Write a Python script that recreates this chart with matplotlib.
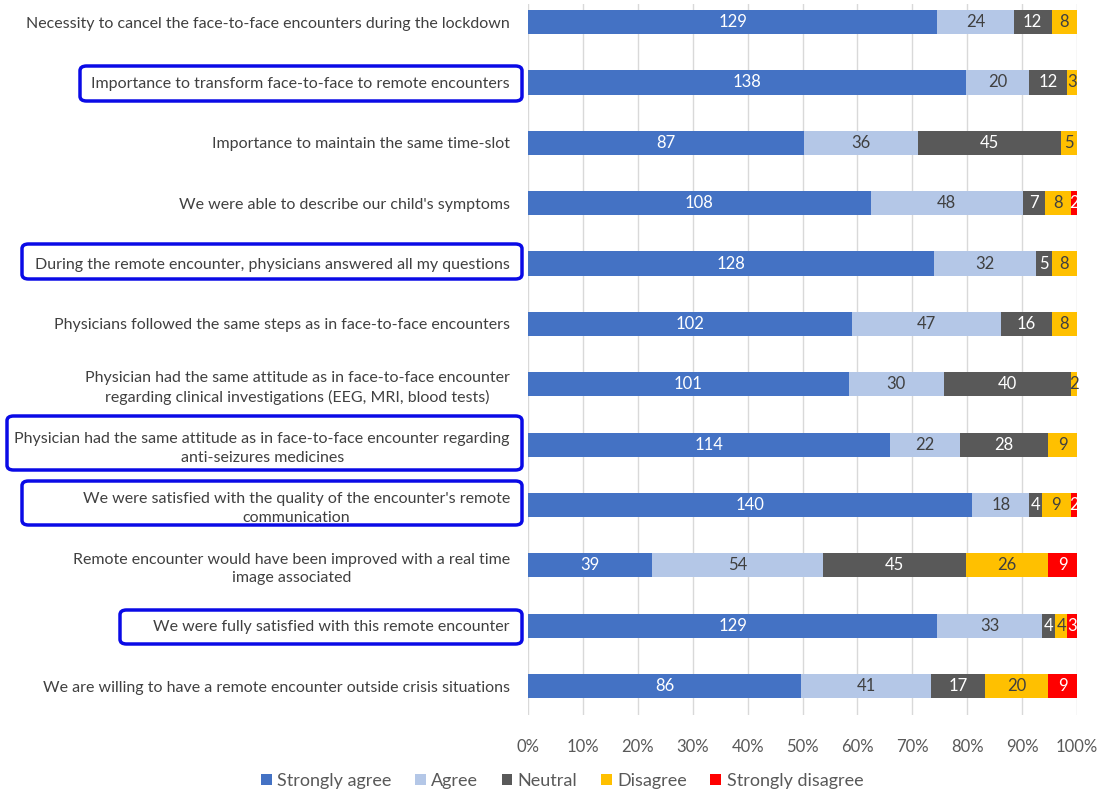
import matplotlib
matplotlib.use("Agg")
from matplotlib import pyplot as plt
from matplotlib.patches import FancyBboxPatch
import numpy as np

# 数据
categories = [
    "Necessity to cancel the face-to-face encounters during the lockdown",
    "Importance to transform face-to-face to remote encounters",
    "Importance to maintain the same time-slot",
    "We were able to describe our child's symptoms",
    "During the remote encounter, physicians answered all my questions",
    "Physicians followed the same steps as in face-to-face encounters",
    "Physician had the same attitude as in face-to-face encounter\nregarding clinical investigations (EEG, MRI, blood tests)",
    "Physician had the same attitude as in face-to-face encounter regarding\nanti-seizures medicines",
    "We were satisfied with the quality of the encounter's remote\ncommunication",
    "Remote encounter would have been improved with a real time\nimage associated",
    "We were fully satisfied with this remote encounter",
    "We are willing to have a remote encounter outside crisis situations",
]
strongly_agree = [129, 138, 87, 108, 128, 102, 101, 114, 140, 39, 129, 86]
agree = [24, 20, 36, 48, 32, 47, 30, 22, 18, 54, 33, 41]
neutral = [12, 12, 45, 7, 5, 16, 40, 28, 4, 45, 4, 17]
disagree = [8, 3, 5, 8, 8, 8, 2, 9, 9, 26, 4, 20]
strongly_disagree = [0, 0, 0, 2, 0, 0, 0, 0, 2, 9, 3, 9]

series_names = ["Strongly agree", "Agree", "Neutral", "Disagree", "Strongly disagree"]
colors = ["#4472C4", "#B4C7E7", "#595959", "#FFC000", "#FF0000"]
label_colors = ["white", "#404040", "white", "#404040", "white"]

plt.rcParams['font.family'] = ['Lato', 'DejaVu Sans']

fig = plt.figure(figsize=(10.99, 7.91), dpi=100)
ax = fig.add_axes([528 / 1099, 76 / 791, 549 / 1099, 711 / 791])

data = np.array([strongly_agree, agree, neutral, disagree, strongly_disagree], dtype=float)
totals = data.sum(axis=0)
pct = data / totals * 100
y = np.arange(len(categories))

left = np.zeros(len(categories))
for i in range(len(series_names)):
    bars = ax.barh(y, pct[i], left=left, height=0.4, color=colors[i],
                   label=series_names[i], zorder=3)
    for j, b in enumerate(bars):
        v = data[i][j]
        if v > 0:
            ax.text(left[j] + pct[i][j] / 2, y[j], "%d" % v, ha="center", va="center",
                    color=label_colors[i], fontsize=12, zorder=4)
    left += pct[i]

ax.set_xlim(0, 100)
ax.set_ylim(11.48, -0.3)
ax.set_xticks(range(0, 101, 10))
ax.set_xticklabels(["%d%%" % t for t in range(0, 101, 10)], fontsize=12, color="#595959")
ax.set_yticks(y)
ax.set_yticklabels(categories, fontsize=11.5, color="#404040", multialignment="center",
                   linespacing=1.4)
ax.tick_params(axis="both", length=0)
ax.tick_params(axis="x", pad=17)
ax.tick_params(axis="y", pad=13)
ax.grid(axis="x", color="#d9d9d9", linewidth=1, zorder=0)
for s in ax.spines.values():
    s.set_visible(False)

fig.legend(loc="center", bbox_to_anchor=(562 / 1099, 1 - 781 / 791), ncol=5, frameon=False,
           fontsize=13, handlelength=0.6, handleheight=0.6, handletextpad=0.3,
           columnspacing=1.3, labelcolor="#595959", borderpad=0)

# 蓝色圆角框 (像素坐标)
box_px = [(80, 66, 522, 101), (22, 244, 522, 279), (7, 416, 522, 470),
          (22, 481, 522, 525), (120, 610, 522, 644)]
for x0, y0, x1, y1 in box_px:
    p = FancyBboxPatch((x0 / 1099, 1 - y1 / 791), (x1 - x0) / 1099, (y1 - y0) / 791,
                       boxstyle="round,pad=0,rounding_size=0.006",
                       transform=fig.transFigure, fill=False, edgecolor="#0a0ae6",
                       linewidth=2.5, zorder=10)
    fig.patches.append(p)

plt.savefig("out.png", dpi=100)
